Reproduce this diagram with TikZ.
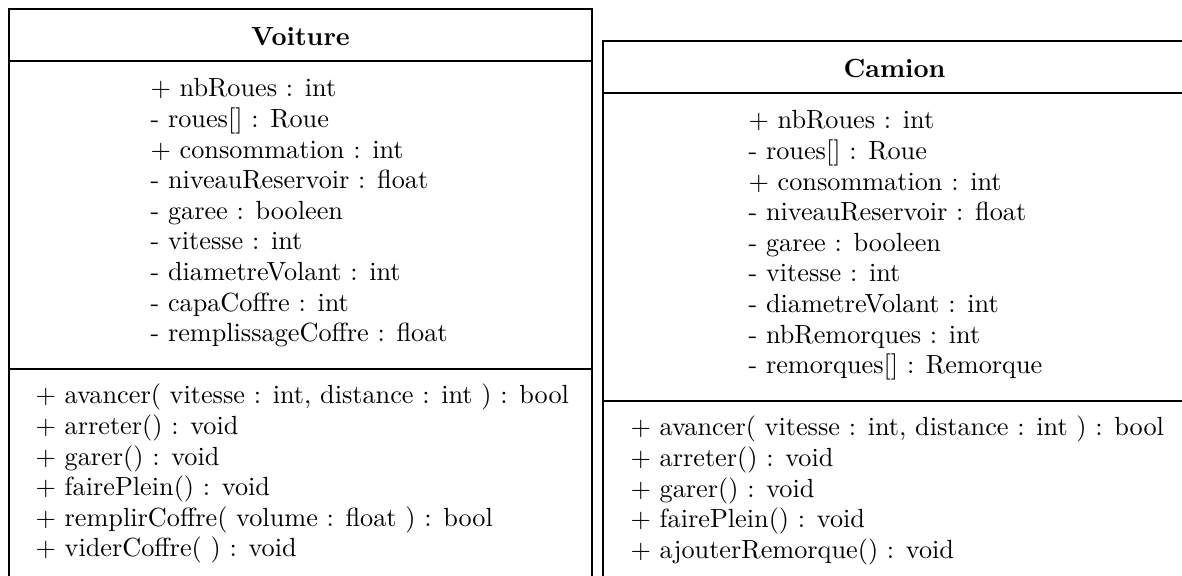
\documentclass[tikz,border=0pt]{standalone}
\usetikzlibrary{positioning}
\tikzset{
  classbox/.style={draw=black, line width=0.45pt},
  classname/.style={font=\bfseries, inner sep=0pt},
  member/.style={anchor=base west, inner sep=0pt}
}
\begin{document}
\begin{tikzpicture}[x=0.381pt, y=-0.381pt]
  \useasboundingbox (0,0) rectangle (1182,576);
  \clip (0,0) rectangle (1182,576);
  % Voiture
  \draw[classbox] (9,600) -- (9,9) -- (592,9) -- (592,600);
  \draw[classbox] (9,61) -- (592,61);
  \draw[classbox] (9,369) -- (592,369);
  \node[classname] (voiture) at (300.5,37) {Voiture};
  \foreach [count=\i] \t in {{$+$ nbRoues : int}, {- roues[] : Roue},
      {$+$ consommation : int}, {- niveauReservoir : float},
      {- garee : booleen}, {- vitesse : int}, {- diametreVolant : int},
      {- capaCoffre : int}, {- remplissageCoffre : float}}
    \node[member] (va\i) at (150, 97+30.6*\i-30.6) {\t};
  \foreach [count=\i] \t in {{$+$ avancer( vitesse : int, distance : int ) : bool},
      {$+$ arreter() : void}, {$+$ garer() : void}, {$+$ fairePlein() : void},
      {$+$ remplirCoffre( volume : float ) : bool}, {$+$ viderCoffre( ) : void}}
    \node[member] (vm\i) at (35, 404+30.6*\i-30.6) {\t};
  % Camion
  \draw[classbox] (603,600) -- (603,41) -- (1186,41) -- (1186,600);
  \draw[classbox] (603,93) -- (1186,93);
  \draw[classbox] (603,401) -- (1186,401);
  \node[classname] (camion) at (894.5,69) {Camion};
  \foreach [count=\i] \t in {{$+$ nbRoues : int}, {- roues[] : Roue},
      {$+$ consommation : int}, {- niveauReservoir : float},
      {- garee : booleen}, {- vitesse : int}, {- diametreVolant : int},
      {- nbRemorques : int}, {- remorques[] : Remorque}}
    \node[member] (ca\i) at (748, 129+30.6*\i-30.6) {\t};
  \foreach [count=\i] \t in {{$+$ avancer( vitesse : int, distance : int ) : bool},
      {$+$ arreter() : void}, {$+$ garer() : void}, {$+$ fairePlein() : void},
      {$+$ ajouterRemorque() : void}}
    \node[member] (cm\i) at (630, 436+30.6*\i-30.6) {\t};
\end{tikzpicture}
\end{document}
